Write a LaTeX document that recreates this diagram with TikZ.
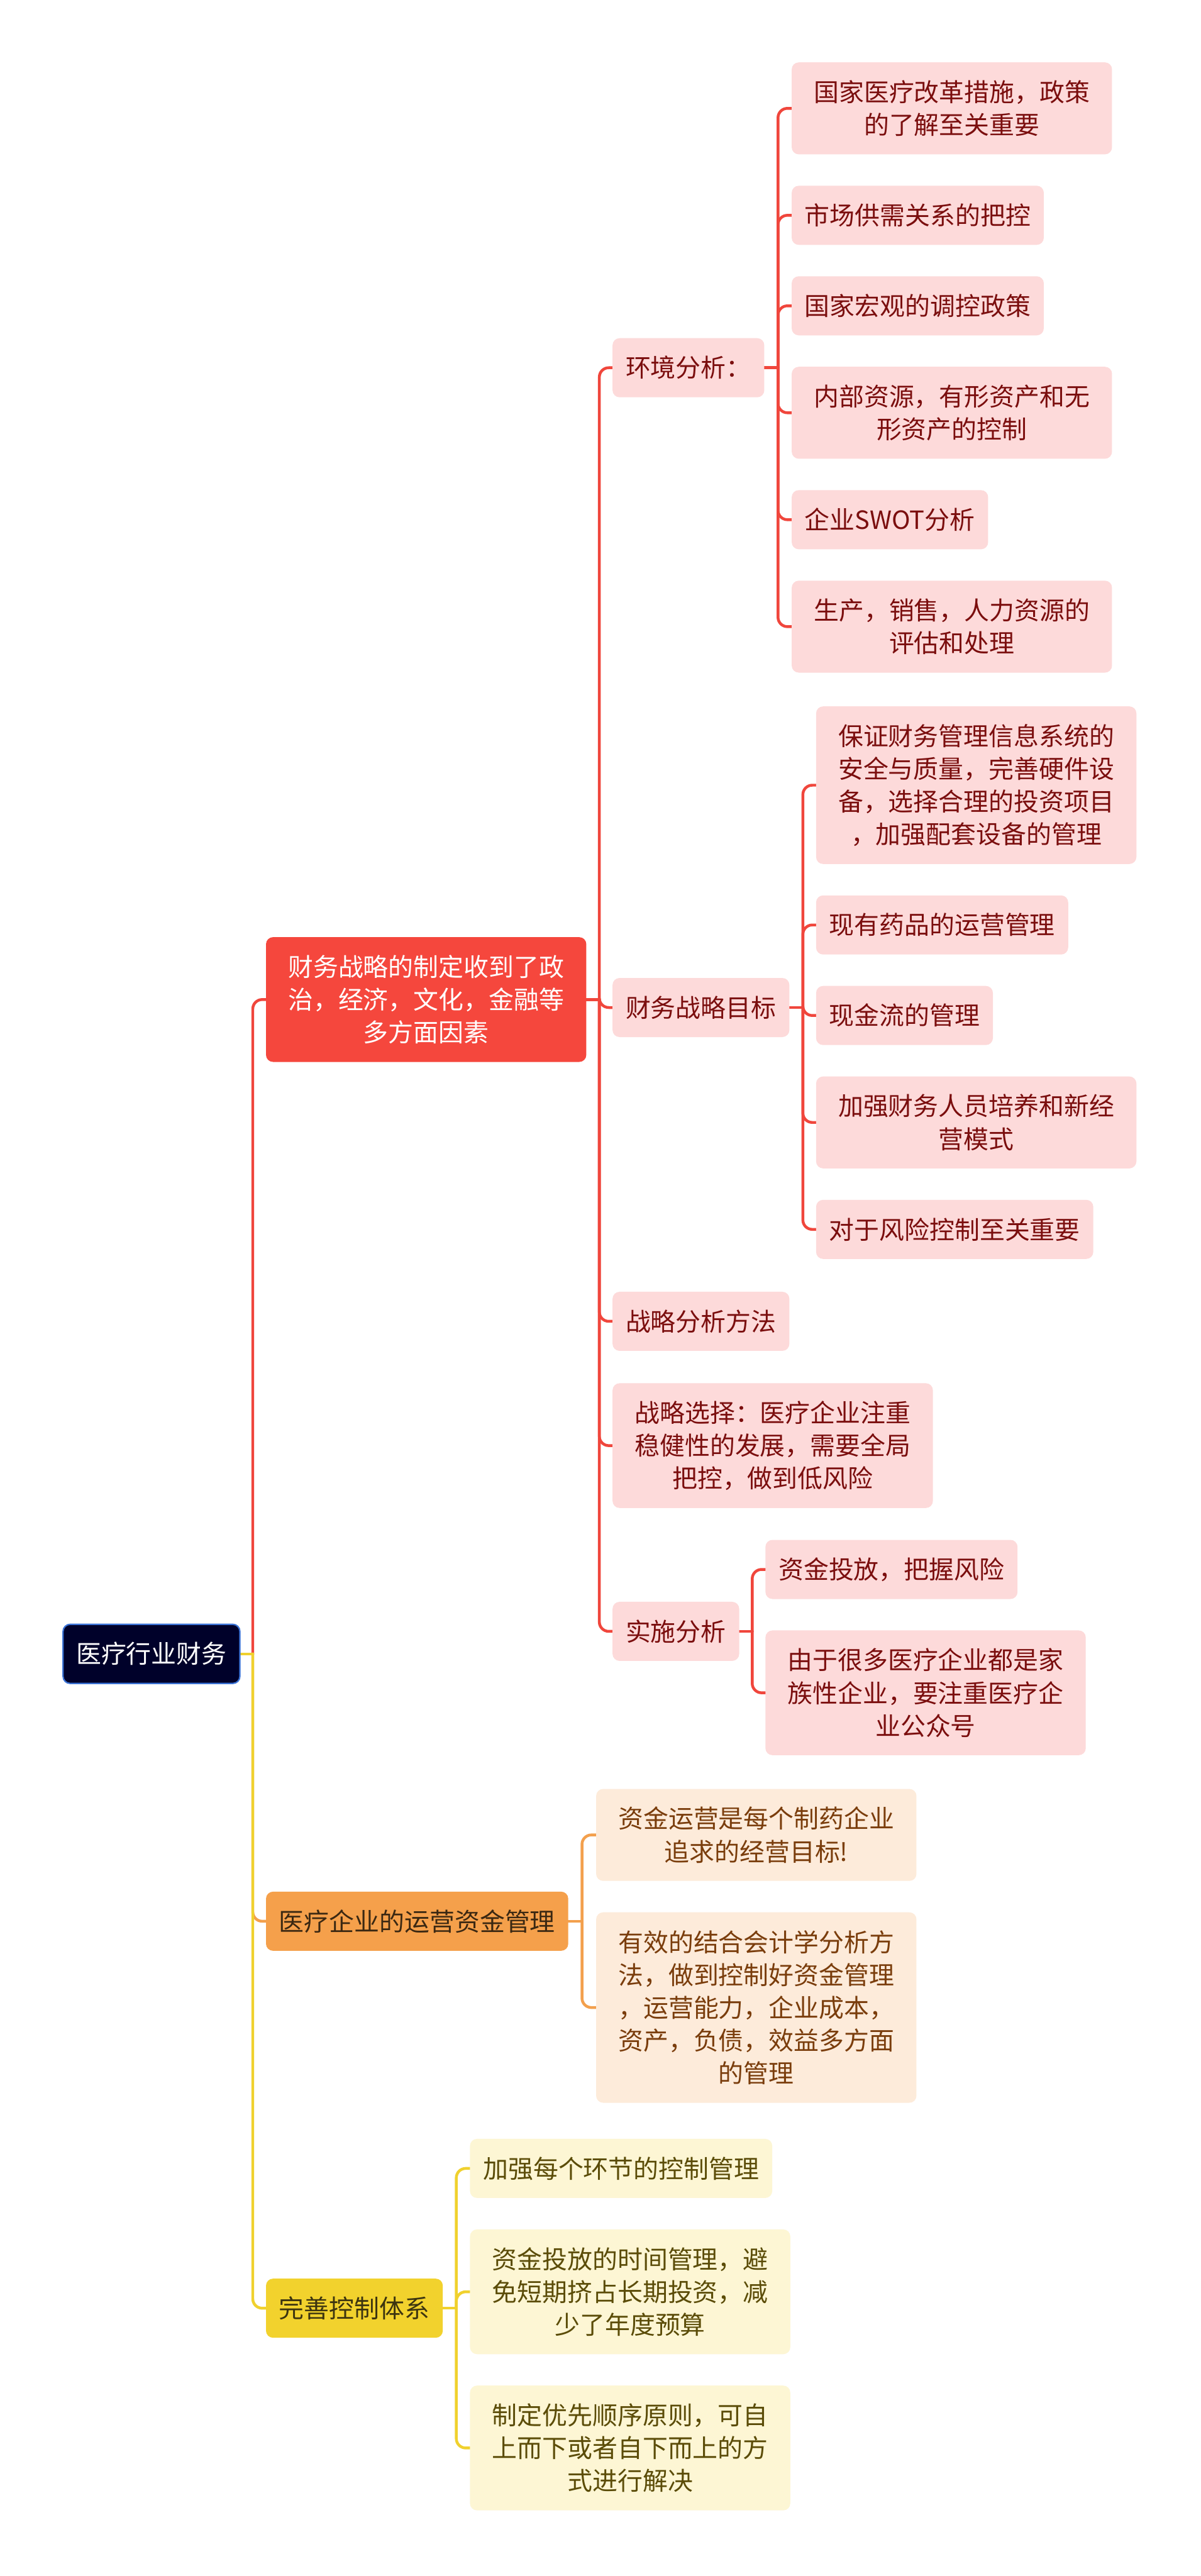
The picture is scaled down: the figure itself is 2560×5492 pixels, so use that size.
\documentclass[tikz,border=0pt]{standalone}
\usepackage{fontspec}
\newfontfamily\cjk{Noto Sans CJK SC}
\usetikzlibrary{backgrounds}
\definecolor{rootfill}{HTML}{00012A}
\definecolor{rootborder}{HTML}{3B73D6}
\definecolor{redmain}{HTML}{F5473D}
\definecolor{redlight}{HTML}{FDDADA}
\definecolor{redtext}{HTML}{7B0E0E}
\definecolor{redline}{HTML}{F0463C}
\definecolor{orgmain}{HTML}{F5A04B}
\definecolor{orglight}{HTML}{FDEBDA}
\definecolor{orgtext}{HTML}{7A3D0C}
\definecolor{orgdark}{HTML}{3B2812}
\definecolor{orgline}{HTML}{F3A04D}
\definecolor{ylwmain}{HTML}{F2D22D}
\definecolor{ylwlight}{HTML}{FDF6D4}
\definecolor{ylwtext}{HTML}{5B4C08}
\definecolor{ylwdark}{HTML}{3C3410}
\definecolor{ylwline}{HTML}{F0D12E}
\tikzset{
  base/.style={rounded corners=15pt, inner xsep=28pt, inner ysep=0pt, anchor=west,
    align=center, minimum height=126pt, font=\cjk\fontsize{53.5}{70}\selectfont},
  ntwo/.style={minimum height=196pt, text width=627pt},
  nthree/.style={minimum height=266pt, text width=627pt},
  nfour/.style={minimum height=336pt, text width=627pt},
  nfive/.style={minimum height=406pt, text width=627pt},
  redc/.style={base, fill=redlight, text=redtext},
  orgc/.style={base, fill=orglight, text=orgtext},
  ylwc/.style={base, fill=ylwlight, text=ylwtext},
  conn/.style={line width=6pt, line cap=round},
  elbow/.style={rounded corners=20pt},
}
\begin{document}
\begin{tikzpicture}[x=1pt,y=-1pt]
\useasboundingbox (0,0) rectangle (2560,5492);

% root
\node[base, fill=rootfill, draw=rootborder, line width=3pt, text=white] (root) at (133,3526) {医疗行业财务};

% level 1
\node[base, nthree, fill=redmain, text=white] (r1) at (567,2131) {财务战略的制定收到了政\\治，经济，文化，金融等\\多方面因素};
\node[base, fill=orgmain, text=orgdark] (o1) at (567,4096) {医疗企业的运营资金管理};
\node[base, fill=ylwmain, text=ylwdark] (y1) at (567,4921) {完善控制体系};

% level 2 (red)
\node[redc] (ra) at (1306,784) {环境分析：};
\node[redc] (rb) at (1306,2148) {财务战略目标};
\node[redc] (rc) at (1306,2817) {战略分析方法};
\node[redc, nthree] (rd) at (1306,3082) {战略选择：医疗企业注重\\稳健性的发展，需要全局\\把控，做到低风险};
\node[redc] (re) at (1306,3478) {实施分析};

% children of 环境分析
\node[redc, ntwo] (a1) at (1688,231) {国家医疗改革措施，政策\\的了解至关重要};
\node[redc] (a2) at (1688,459) {市场供需关系的把控};
\node[redc] (a3) at (1688,652) {国家宏观的调控政策};
\node[redc, ntwo] (a4) at (1688,880) {内部资源，有形资产和无\\形资产的控制};
\node[redc] (a5) at (1688,1108) {企业SWOT分析};
\node[redc, ntwo] (a6) at (1688,1336) {生产，销售，人力资源的\\评估和处理};

% children of 财务战略目标
\node[redc, nfour] (b1) at (1740,1674) {保证财务管理信息系统的\\安全与质量，完善硬件设\\备，选择合理的投资项目\\，加强配套设备的管理};
\node[redc] (b2) at (1740,1972) {现有药品的运营管理};
\node[redc] (b3) at (1740,2165) {现金流的管理};
\node[redc, ntwo] (b4) at (1740,2393) {加强财务人员培养和新经\\营模式};
\node[redc] (b5) at (1740,2621) {对于风险控制至关重要};

% children of 实施分析
\node[redc] (e1) at (1632,3346) {资金投放，把握风险};
\node[redc, nthree] (e2) at (1632,3609) {由于很多医疗企业都是家\\族性企业，要注重医疗企\\业公众号};

% orange children
\node[orgc, ntwo] (o11) at (1271,3912) {资金运营是每个制药企业\\追求的经营目标!};
\node[orgc, nfive] (o12) at (1271,4280) {有效的结合会计学分析方\\法，做到控制好资金管理\\，运营能力，企业成本，\\资产，负债，效益多方面\\的管理};

% yellow children
\node[ylwc] (y11) at (1002,4623) {加强每个环节的控制管理};
\node[ylwc, nthree] (y12) at (1002,4886) {资金投放的时间管理，避\\免短期挤占长期投资，减\\少了年度预算};
\node[ylwc, nthree] (y13) at (1002,5219) {制定优先顺序原则，可自\\上而下或者自下而上的方\\式进行解决};

% junctions
\coordinate (jr) at (539,3526);
\coordinate (j1) at (1278,2131);
\coordinate (ja) at (1659,784);
\coordinate (jb) at (1712,2148);
\coordinate (je) at (1604,3478);
\coordinate (jo) at (1241,4096);
\coordinate (jy) at (973,4921);

\begin{pgfonlayer}{background}
\fill[white] (0,0) rectangle (2560,5492);
% root connectors
\draw[conn, draw=redline] (root.east) -- (jr);
\draw[conn, elbow, draw=redline] (jr) |- (r1.west);
\draw[conn, draw=orgline] (root.east) -- (jr);
\draw[conn, elbow, draw=orgline] (jr) |- (o1.west);
\draw[conn, draw=ylwline] (root.east) -- (jr);
\draw[conn, elbow, draw=ylwline] (jr) |- (y1.west);
% red branch
\draw[conn, draw=redline] (r1.east) -- (j1);
\foreach \c in {ra,rb,rc,rd,re} \draw[conn, elbow, draw=redline] (j1) |- (\c.west);
\draw[conn, draw=redline] (ra.east) -- (ja);
\foreach \c in {a1,a2,a3,a4,a5,a6} \draw[conn, elbow, draw=redline] (ja) |- (\c.west);
\draw[conn, draw=redline] (rb.east) -- (jb);
\foreach \c in {b1,b2,b3,b4,b5} \draw[conn, elbow, draw=redline] (jb) |- (\c.west);
\draw[conn, draw=redline] (re.east) -- (je);
\foreach \c in {e1,e2} \draw[conn, elbow, draw=redline] (je) |- (\c.west);
% orange branch
\draw[conn, draw=orgline] (o1.east) -- (jo);
\foreach \c in {o11,o12} \draw[conn, elbow, draw=orgline] (jo) |- (\c.west);
% yellow branch
\draw[conn, draw=ylwline] (y1.east) -- (jy);
\foreach \c in {y11,y12,y13} \draw[conn, elbow, draw=ylwline] (jy) |- (\c.west);
\end{pgfonlayer}
\end{tikzpicture}
\end{document}
